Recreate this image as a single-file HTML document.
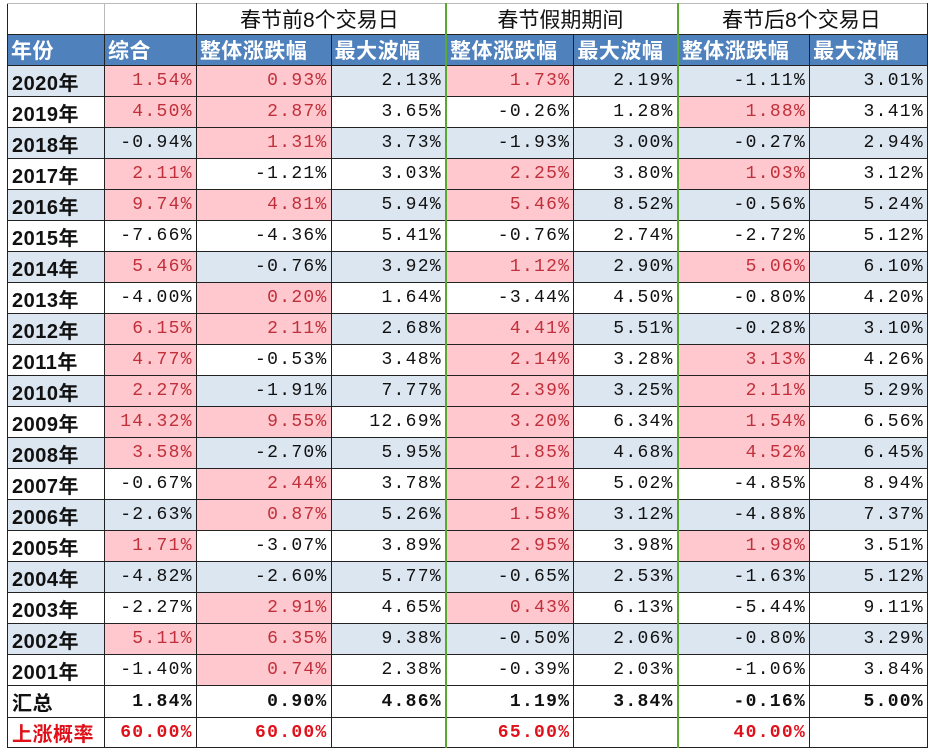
<!DOCTYPE html>
<html><head><meta charset="utf-8"><style>
body{margin:0;background:#fff;width:928px;height:749px;overflow:hidden;font-family:"Liberation Mono","Noto Sans CJK SC",monospace;}
table{position:absolute;left:7px;top:3px;border-collapse:collapse;table-layout:fixed;}
td{border:1px solid #222;padding:0 3px 0 0;text-align:right;font-size:18px;letter-spacing:1.3px;color:#111;white-space:nowrap;overflow:hidden;height:30px;box-sizing:border-box;}
tr.d td{height:31px;}
td.y{text-align:left;padding-left:4px;font-family:"Liberation Sans","Noto Sans CJK SC",sans-serif;font-weight:bold;font-size:20px;letter-spacing:0.5px;}
tr.b td{background:#dce6f1;}
tr td.p{background:#ffc7ce;color:#c0303a;}
tr.h1 td{text-align:center;font-family:"Liberation Sans","Noto Sans CJK SC",sans-serif;font-size:21px;letter-spacing:0;border-top:1px solid #bbb;height:30px;}
tr.h2 td{background:#4f81bd;color:#fff;font-family:"Liberation Sans","Noto Sans CJK SC",sans-serif;font-weight:bold;font-size:21px;letter-spacing:0.5px;text-align:left;padding-left:3px;height:31px;}
td.g{border-left:2px solid #5aa832;}
tr.s td{font-weight:bold;height:32px;}
tr.r td{font-weight:bold;color:#e0101a;height:30px;}
</style></head><body>
<table>
<colgroup><col style="width:97px"><col style="width:92px"><col style="width:135px"><col style="width:115px"><col style="width:128px"><col style="width:104px"><col style="width:132px"><col style="width:118px"></colgroup>
<tr class="h1"><td style="border-right:1px solid #bbb"></td><td></td><td colspan="2">春节前8个交易日</td><td class="g" colspan="2">春节假期期间</td><td class="g" colspan="2">春节后8个交易日</td></tr>
<tr class="h2"><td>年份</td><td>综合</td><td>整体涨跌幅</td><td>最大波幅</td><td class="g">整体涨跌幅</td><td>最大波幅</td><td class="g">整体涨跌幅</td><td>最大波幅</td></tr>
<tr class="d b"><td class="y">2020年</td><td class="p">1.54%</td><td class="p">0.93%</td><td>2.13%</td><td class="p g">1.73%</td><td>2.19%</td><td class="g">-1.11%</td><td>3.01%</td></tr>
<tr class="d"><td class="y">2019年</td><td class="p">4.50%</td><td class="p">2.87%</td><td>3.65%</td><td class="g">-0.26%</td><td>1.28%</td><td class="p g">1.88%</td><td>3.41%</td></tr>
<tr class="d b"><td class="y">2018年</td><td>-0.94%</td><td class="p">1.31%</td><td>3.73%</td><td class="g">-1.93%</td><td>3.00%</td><td class="g">-0.27%</td><td>2.94%</td></tr>
<tr class="d"><td class="y">2017年</td><td class="p">2.11%</td><td>-1.21%</td><td>3.03%</td><td class="p g">2.25%</td><td>3.80%</td><td class="p g">1.03%</td><td>3.12%</td></tr>
<tr class="d b"><td class="y">2016年</td><td class="p">9.74%</td><td class="p">4.81%</td><td>5.94%</td><td class="p g">5.46%</td><td>8.52%</td><td class="g">-0.56%</td><td>5.24%</td></tr>
<tr class="d"><td class="y">2015年</td><td>-7.66%</td><td>-4.36%</td><td>5.41%</td><td class="g">-0.76%</td><td>2.74%</td><td class="g">-2.72%</td><td>5.12%</td></tr>
<tr class="d b"><td class="y">2014年</td><td class="p">5.46%</td><td>-0.76%</td><td>3.92%</td><td class="p g">1.12%</td><td>2.90%</td><td class="p g">5.06%</td><td>6.10%</td></tr>
<tr class="d"><td class="y">2013年</td><td>-4.00%</td><td class="p">0.20%</td><td>1.64%</td><td class="g">-3.44%</td><td>4.50%</td><td class="g">-0.80%</td><td>4.20%</td></tr>
<tr class="d b"><td class="y">2012年</td><td class="p">6.15%</td><td class="p">2.11%</td><td>2.68%</td><td class="p g">4.41%</td><td>5.51%</td><td class="g">-0.28%</td><td>3.10%</td></tr>
<tr class="d"><td class="y">2011年</td><td class="p">4.77%</td><td>-0.53%</td><td>3.48%</td><td class="p g">2.14%</td><td>3.28%</td><td class="p g">3.13%</td><td>4.26%</td></tr>
<tr class="d b"><td class="y">2010年</td><td class="p">2.27%</td><td>-1.91%</td><td>7.77%</td><td class="p g">2.39%</td><td>3.25%</td><td class="p g">2.11%</td><td>5.29%</td></tr>
<tr class="d"><td class="y">2009年</td><td class="p">14.32%</td><td class="p">9.55%</td><td>12.69%</td><td class="p g">3.20%</td><td>6.34%</td><td class="p g">1.54%</td><td>6.56%</td></tr>
<tr class="d b"><td class="y">2008年</td><td class="p">3.58%</td><td>-2.70%</td><td>5.95%</td><td class="p g">1.85%</td><td>4.68%</td><td class="p g">4.52%</td><td>6.45%</td></tr>
<tr class="d"><td class="y">2007年</td><td>-0.67%</td><td class="p">2.44%</td><td>3.78%</td><td class="p g">2.21%</td><td>5.02%</td><td class="g">-4.85%</td><td>8.94%</td></tr>
<tr class="d b"><td class="y">2006年</td><td>-2.63%</td><td class="p">0.87%</td><td>5.26%</td><td class="p g">1.58%</td><td>3.12%</td><td class="g">-4.88%</td><td>7.37%</td></tr>
<tr class="d"><td class="y">2005年</td><td class="p">1.71%</td><td>-3.07%</td><td>3.89%</td><td class="p g">2.95%</td><td>3.98%</td><td class="p g">1.98%</td><td>3.51%</td></tr>
<tr class="d b"><td class="y">2004年</td><td>-4.82%</td><td>-2.60%</td><td>5.77%</td><td class="g">-0.65%</td><td>2.53%</td><td class="g">-1.63%</td><td>5.12%</td></tr>
<tr class="d"><td class="y">2003年</td><td>-2.27%</td><td class="p">2.91%</td><td>4.65%</td><td class="p g">0.43%</td><td>6.13%</td><td class="g">-5.44%</td><td>9.11%</td></tr>
<tr class="d b"><td class="y">2002年</td><td class="p">5.11%</td><td class="p">6.35%</td><td>9.38%</td><td class="g">-0.50%</td><td>2.06%</td><td class="g">-0.80%</td><td>3.29%</td></tr>
<tr class="d"><td class="y">2001年</td><td>-1.40%</td><td class="p">0.74%</td><td>2.38%</td><td class="g">-0.39%</td><td>2.03%</td><td class="g">-1.06%</td><td>3.84%</td></tr>
<tr class="s"><td class="y">汇总</td><td>1.84%</td><td>0.90%</td><td>4.86%</td><td class="g">1.19%</td><td>3.84%</td><td class="g">-0.16%</td><td>5.00%</td></tr>
<tr class="r"><td class="y" style="color:#e0101a">上涨概率</td><td>60.00%</td><td>60.00%</td><td></td><td class="g">65.00%</td><td></td><td class="g">40.00%</td><td></td></tr>
</table>
</body></html>
